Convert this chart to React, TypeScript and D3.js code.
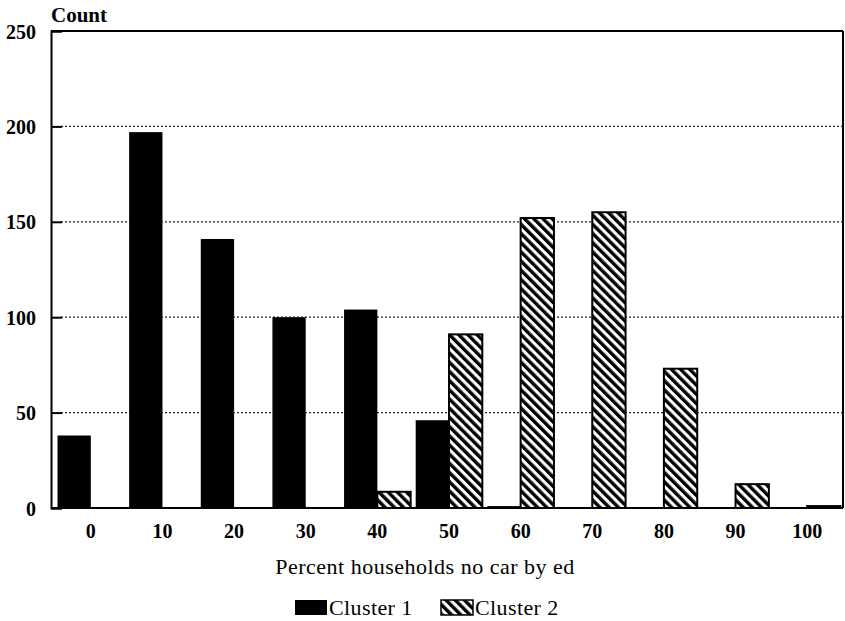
import React, { useRef, useEffect } from "react";
import * as d3 from "d3";

const categories = ["0", "10", "20", "30", "40", "50", "60", "70", "80", "90", "100"];
const seriesNames = ["Cluster 1", "Cluster 2"];
const cluster1 = [38, 197, 141, 100, 104, 46, 1, 0, 0.5, 0.5, 0];
const cluster2 = [0, 0, 0, 0, 8.5, 91, 152, 155, 73, 12.5, 1];
const yTicks = [0, 50, 100, 150, 200, 250];

const FONT = "'Liberation Serif', 'DejaVu Serif', serif";

export const App = () => {
    const svgRef = useRef<SVGSVGElement>(null);

    useEffect(() => {
        if (!svgRef.current) return;
        const svg = d3.select(svgRef.current);
        svg.selectAll("*").remove();

        const width = 845;
        const height = 621;
        const margin = { top: 31, right: 2, bottom: 113, left: 51 };
        const plotRight = width - margin.right;
        const plotBottom = height - margin.bottom;

        // hatch for cluster 2
        const defs = svg.append("defs");
        const pat = defs
            .append("pattern")
            .attr("id", "hatch")
            .attr("patternUnits", "userSpaceOnUse")
            .attr("width", 6.5)
            .attr("height", 6.5)
            .attr("patternTransform", "rotate(-45)");
        pat.append("rect").attr("width", 6.5).attr("height", 6.5).attr("fill", "#fff");
        pat.append("rect").attr("width", 3.4).attr("height", 6.5).attr("fill", "#000");

        const x0 = d3
            .scaleBand()
            .domain(categories)
            .range([55, plotRight])
            .paddingInner(0.07)
            .paddingOuter(0.035);

        const x1 = d3
            .scaleBand()
            .domain(seriesNames)
            .range([0, x0.bandwidth()]);

        const y = d3
            .scaleLinear()
            .domain([0, 250])
            .range([plotBottom, margin.top]);

        // grid lines
        svg.append("g")
            .selectAll("line")
            .data(yTicks.filter((t) => t > 0 && t < 250))
            .join("line")
            .attr("x1", margin.left + 10)
            .attr("x2", plotRight)
            .attr("y1", (d) => y(d))
            .attr("y2", (d) => y(d))
            .attr("stroke", "#222")
            .attr("stroke-width", 1.3)
            .attr("stroke-dasharray", "2,2");

        // left axis
        const yAxis = svg
            .append("g")
            .attr("transform", `translate(${margin.left},0)`)
            .call(d3.axisLeft(y).tickValues(yTicks).tickSize(-11).tickPadding(15));
        yAxis.select(".domain").attr("stroke", "#000").attr("stroke-width", 2);
        yAxis.selectAll(".tick line").attr("stroke", "#000").attr("stroke-width", 2);
        yAxis
            .selectAll(".tick text")
            .attr("font-family", FONT)
            .attr("font-size", 20)
            .attr("font-weight", "bold")
            .attr("fill", "#000")
            .attr("dy", "0.35em");

        // frame top and right
        svg.append("line")
            .attr("x1", margin.left)
            .attr("x2", plotRight)
            .attr("y1", y(250))
            .attr("y2", y(250))
            .attr("stroke", "#000")
            .attr("stroke-width", 2);
        svg.append("line")
            .attr("x1", plotRight)
            .attr("x2", plotRight)
            .attr("y1", y(250))
            .attr("y2", plotBottom)
            .attr("stroke", "#000")
            .attr("stroke-width", 2);

        // bars
        const rows = categories.map((c, i) => ({
            cat: c,
            values: [
                { key: seriesNames[0], v: cluster1[i] },
                { key: seriesNames[1], v: cluster2[i] },
            ],
        }));

        const groups = svg
            .append("g")
            .selectAll("g")
            .data(rows)
            .join("g")
            .attr("transform", (d) => `translate(${x0(d.cat)},0)`);

        groups
            .selectAll("rect")
            .data((d) => d.values.filter((v) => v.v > 0))
            .join("rect")
            .attr("x", (d) => x1(d.key) || 0)
            .attr("y", (d) => y(d.v))
            .attr("width", x1.bandwidth())
            .attr("height", (d) => plotBottom - y(d.v))
            .attr("fill", (d) => (d.key === seriesNames[0] ? "#000" : "url(#hatch)"))
            .attr("stroke", "#000")
            .attr("stroke-width", (d) => (d.key === seriesNames[0] ? 0 : 2));

        // bottom axis
        const xAxis = svg
            .append("g")
            .attr("transform", `translate(0,${plotBottom})`)
            .call(d3.axisBottom(x0).tickSize(0).tickPadding(16));
        xAxis.select(".domain").remove();
        xAxis
            .selectAll(".tick text")
            .attr("font-family", FONT)
            .attr("font-size", 20)
            .attr("font-weight", "bold")
            .attr("fill", "#000");
        svg.append("line")
            .attr("x1", margin.left)
            .attr("x2", plotRight)
            .attr("y1", plotBottom)
            .attr("y2", plotBottom)
            .attr("stroke", "#000")
            .attr("stroke-width", 2);

        // titles
        svg.append("text")
            .attr("x", margin.left)
            .attr("y", 22)
            .attr("font-family", FONT)
            .attr("font-size", 21)
            .attr("font-weight", "bold")
            .text("Count");

        svg.append("text")
            .attr("x", 425)
            .attr("y", 574)
            .attr("text-anchor", "middle")
            .attr("font-family", FONT)
            .attr("font-size", 22)
            .attr("letter-spacing", 0.5)
            .text("Percent households no car by ed");

        // legend
        const legend = svg
            .append("g")
            .selectAll("g")
            .data(seriesNames)
            .join("g")
            .attr("transform", (d, i) => `translate(${i === 0 ? 295 : 441},0)`);
        legend
            .append("rect")
            .attr("y", 600)
            .attr("width", 32)
            .attr("height", 15)
            .attr("fill", (d, i) => (i === 0 ? "#000" : "url(#hatch)"))
            .attr("stroke", "#000")
            .attr("stroke-width", (d, i) => (i === 0 ? 0 : 1.5));
        legend
            .append("text")
            .attr("x", 34)
            .attr("y", 615)
            .attr("font-family", FONT)
            .attr("font-size", 22)
            .attr("letter-spacing", 0.4)
            .text((d) => d);

        svg.attr("width", width).attr("height", height);
    }, []);

    return (
        <svg
            ref={svgRef}
            style={{ position: "absolute", left: 0, top: 0, display: "block", background: "#fff" }}
        />
    );
};

export default App;
